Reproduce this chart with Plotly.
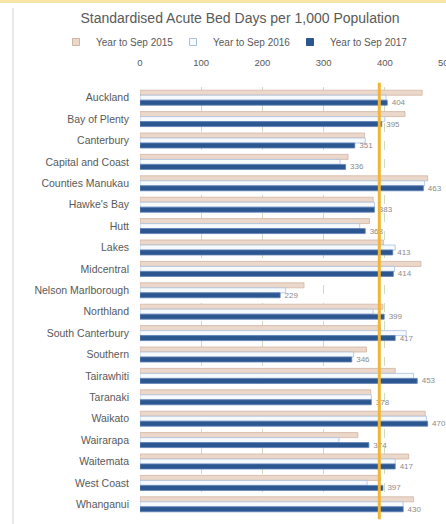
import plotly.graph_objects as go

categories = ["Auckland", "Bay of Plenty", "Canterbury", "Capital and Coast", "Counties Manukau",
              "Hawke's Bay", "Hutt", "Lakes", "Midcentral", "Nelson Marlborough", "Northland",
              "South Canterbury", "Southern", "Tairawhiti", "Taranaki", "Waikato", "Wairarapa",
              "Waitemata", "West Coast", "Whanganui"]
y2015 = [461, 433, 367, 340, 470, 381, 375, 398, 459, 268, 397, 393, 370, 417, 377, 466, 356, 439, 393, 447]
y2016 = [402, 400, 368, 327, 465, 383, 359, 417, 416, 238, 381, 435, 349, 447, 378, 468, 325, 417, 371, 430]
y2017 = [404, 395, 351, 336, 463, 383, 368, 413, 414, 229, 399, 417, 346, 453, 378, 470, 374, 417, 397, 430]
series_names = ["Year to Sep 2015", "Year to Sep 2016", "Year to Sep 2017"]
national_average = 391
x_ticks = [0, 100, 200, 300, 400, 500]

W, H = 446, 524
L, R, T, B = 140, 0, 87, 9
pw = W - L - R
ph = H - T - B


def py(p):
    # pixel row -> paper y
    return (H - B - p) / ph


def px(p):
    # pixel column -> paper x
    return (p - L) / pw


fills = ["#ecd8cb", "#f7fafd", "#2c5690"]
edges = ["#d2b4a2", "#a9c0de", "#5d82b6"]
values = [y2015, y2016, y2017]

fig = go.Figure()
for i in range(3):
    kw = {}
    if i == 2:
        kw = dict(text=["  " + str(v) for v in y2017], textposition="outside",
                  textfont=dict(size=8, color="#8a8a8a", family="Liberation Sans"),
                  constraintext="none", cliponaxis=False)
    fig.add_trace(go.Bar(y=categories, x=values[i], name=series_names[i], orientation="h",
                         showlegend=False,
                         marker=dict(color=fills[i], line=dict(color=edges[i], width=0.8)), **kw))
# legend entries with small square keys
for i in range(3):
    fig.add_trace(go.Scatter(x=[None], y=[None], mode="markers", name=series_names[i],
                             marker=dict(symbol="square", size=7, color=fills[i],
                                         line=dict(color=edges[i] if i < 2 else fills[i], width=1))))

fig.add_shape(type="line", xref="x", yref="paper", x0=national_average, x1=national_average,
              y0=-0.01, y1=1.01, line=dict(color="#f2b531", width=3), layer="above")

# decorative frame of the screenshot
fig.add_shape(type="line", xref="paper", yref="paper",
              x0=px(13), x1=px(13), y0=py(H), y1=py(8),
              line=dict(color="#e2e2e2", width=1.5))
fig.add_shape(type="rect", xref="paper", yref="paper",
              x0=px(0), x1=px(W), y0=py(3), y1=py(0),
              fillcolor="#f7e6a8", line=dict(width=0))

fig.update_layout(
    width=W, height=H,
    margin=dict(l=L, r=R, t=T, b=B, autoexpand=False),
    paper_bgcolor="white", plot_bgcolor="white",
    barmode="group", bargap=0.3, bargroupgap=0.0,
    font=dict(family="Liberation Sans", color="#595959"),
    title=dict(text="Standardised Acute Bed Days per 1,000 Population",
               x=240 / W, xref="container", xanchor="center",
               y=1 - 18 / H, yref="container", yanchor="middle",
               font=dict(size=14, color="#595959", family="Liberation Sans")),
    legend=dict(orientation="h", xref="paper", yref="paper",
                x=px(56), xanchor="left", y=py(42), yanchor="middle",
                font=dict(size=10, color="#595959"), itemwidth=30,
                entrywidth=72, entrywidthmode="pixels",
                traceorder="normal", bgcolor="rgba(0,0,0,0)"),
    xaxis=dict(side="top", range=[0, 500], tickvals=x_ticks, showgrid=True,
               gridcolor="#cfdcc0", griddash="dash", gridwidth=1, zeroline=False,
               showline=False, ticks="", tickfont=dict(size=9.5, color="#595959"),
               ticklabelstandoff=18, ticklabeloverflow="allow", automargin=False,
               fixedrange=True),
    yaxis=dict(autorange="reversed", showgrid=False, showline=False, ticks="",
               tickfont=dict(size=10.5, color="#595959"), ticklabelstandoff=10,
               automargin=False),
)

fig.write_html("out.html")
